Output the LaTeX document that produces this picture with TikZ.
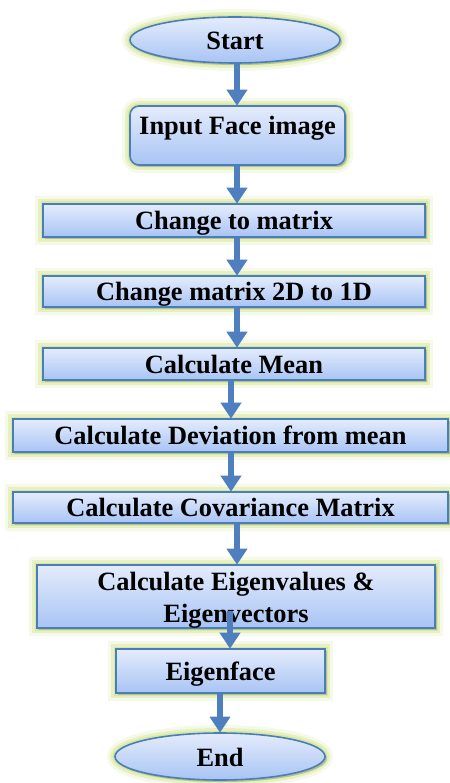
\documentclass[tikz,border=0pt]{standalone}
\usepackage{fontspec}
\setmainfont{Liberation Serif}
\usetikzlibrary{arrows.meta,shapes.geometric,shadows}
\definecolor{bordc}{HTML}{4A7EBB}
\definecolor{arrc}{HTML}{4F7FBE}
\definecolor{topc}{HTML}{E4ECFC}
\definecolor{botc}{HTML}{A8C4F4}
\definecolor{glowc}{HTML}{CFE38C}
\tikzset{
  glow/.style={preaction={draw=glowc,line width=16pt,opacity=.2},
               preaction={draw=glowc,line width=10pt,opacity=.4},
               preaction={draw=glowc,line width=5pt,opacity=.6}},
  boxbase/.style={glow, drop shadow={shadow xshift=2pt,shadow yshift=-2pt,opacity=.3,fill=black!60},
    draw=bordc, line width=1.6pt, top color=topc, bottom color=botc,
    inner sep=0pt, font=\bfseries\fontsize{26.4}{32}\selectfont},
  flowbox/.style={boxbase, rectangle, text height=18pt, text depth=0pt},
  termin/.style={boxbase, ellipse, text height=20pt, text depth=0pt},
  arr/.style={draw=arrc, line width=6pt, -{Triangle[width=20pt,length=16pt]}, shorten >=-0.5pt}
}
\begin{document}
\begin{tikzpicture}[x=1pt,y=1pt]
\useasboundingbox (0,0) rectangle (449,-783);
\node[termin, minimum width=210, minimum height=46] (start) at (235,-40) {Start};
\node[flowbox, rounded corners=9pt, minimum width=215, minimum height=59, text depth=19pt] (input) at (237.5,-135.5) {Input Face image};
\node[flowbox, minimum width=382, minimum height=33] (chg) at (234,-220.5) {Change to matrix};
\node[flowbox, minimum width=382, minimum height=31] (twod) at (234,-291.5) {Change matrix 2D to 1D};
\node[flowbox, minimum width=382, minimum height=32] (mean) at (234,-364) {Calculate Mean};
\node[flowbox, minimum width=435, minimum height=33] (dev) at (230.5,-435.5) {Calculate Deviation from mean};
\node[flowbox, minimum width=435, minimum height=31] (cov) at (230.5,-507.5) {Calculate Covariance Matrix};
\node[boxbase, rectangle, align=center, minimum width=398, minimum height=63, text height=51pt, text depth=0pt] (eig) at (236,-596.5) {Calculate Eigenvalues \&\\Eigenvectors};
\node[flowbox, minimum width=209, minimum height=44] (eigf) at (220.5,-671) {Eigenface};
\node[termin, minimum width=210, minimum height=47] (end) at (220,-756.5) {End};
\coordinate (xa) at (237,0);
\coordinate (xb) at (231,0);
\coordinate (xc) at (230,0);
\coordinate (xd) at (220,0);
\coordinate (e1) at (230,-611);
\draw[arr] (start.south -| xa) -- (input.north -| xa);
\draw[arr] (input.south -| xa) -- (chg.north -| xa);
\draw[arr] (chg.south -| xa) -- (twod.north -| xa);
\draw[arr] (twod.south -| xa) -- (mean.north -| xa);
\draw[arr] (mean.south -| xb) -- (dev.north -| xb);
\draw[arr] (dev.south -| xb) -- (cov.north -| xb);
\draw[arr] (cov.south -| xa) -- (eig.north -| xa);
\draw[arr] (e1) -- (eigf.north -| xc);
\draw[arr] (eigf.south -| xd) -- (end.north -| xd);
\end{tikzpicture}
\end{document}
